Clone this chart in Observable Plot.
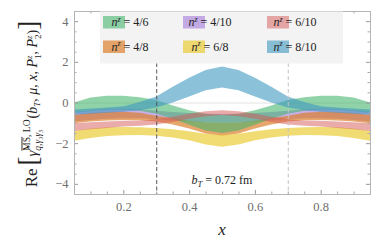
<!DOCTYPE html>
<html><head><meta charset="utf-8">
<script src="https://cdn.jsdelivr.net/npm/d3@7"></script>
<script src="https://cdn.jsdelivr.net/npm/@observablehq/plot@0.6"></script>
<style>
body{margin:0;background:#fff;}
#chart{width:382px;height:243px;}
</style></head><body><div id="chart"></div>
<script>
// x grid
const xs = [0.05,0.10,0.15,0.20,0.25,0.30,0.35,0.40,0.45,0.50,0.55,0.60,0.65,0.70,0.75,0.80,0.85,0.90,0.95];
// n^z = 4/6 (green)
const n46Hi = [0.00,0.25,0.33,0.33,0.26,0.12,-0.15,-0.38,-0.55,-0.60,-0.55,-0.38,-0.15,0.12,0.26,0.33,0.33,0.25,0.00];
const n46Lo = [-0.50,-0.42,-0.36,-0.35,-0.40,-0.55,-0.80,-1.10,-1.38,-1.50,-1.38,-1.10,-0.80,-0.55,-0.40,-0.35,-0.36,-0.42,-0.50];
// n^z = 4/8 (orange)
const n48Hi = [-0.62,-0.52,-0.47,-0.45,-0.50,-0.65,-0.78,-0.90,-0.98,-1.00,-0.98,-0.90,-0.78,-0.65,-0.50,-0.45,-0.47,-0.52,-0.62];
const n48Lo = [-1.02,-0.93,-0.88,-0.86,-0.87,-0.93,-1.08,-1.28,-1.52,-1.64,-1.52,-1.28,-1.08,-0.93,-0.87,-0.86,-0.88,-0.93,-1.02];
// n^z = 4/10 (purple)
const n410Hi = [-0.45,-0.38,-0.32,-0.30,-0.33,-0.40,-0.47,-0.52,-0.55,-0.56,-0.55,-0.52,-0.47,-0.40,-0.33,-0.30,-0.32,-0.38,-0.45];
const n410Lo = [-0.94,-0.86,-0.80,-0.78,-0.78,-0.82,-0.88,-0.93,-0.98,-1.00,-0.98,-0.93,-0.88,-0.82,-0.78,-0.78,-0.80,-0.86,-0.94];
// n^z = 6/8 (yellow)
const n68Hi = [-1.40,-1.28,-1.22,-1.21,-1.22,-1.26,-1.32,-1.42,-1.54,-1.60,-1.54,-1.42,-1.32,-1.26,-1.22,-1.21,-1.22,-1.28,-1.40];
const n68Lo = [-1.88,-1.74,-1.65,-1.61,-1.60,-1.63,-1.72,-1.86,-2.06,-2.18,-2.06,-1.86,-1.72,-1.63,-1.60,-1.61,-1.65,-1.74,-1.88];
// n^z = 6/10 (red)
const n610Hi = [-1.02,-0.97,-0.93,-0.90,-0.88,-0.82,-0.70,-0.55,-0.43,-0.38,-0.43,-0.55,-0.70,-0.82,-0.88,-0.90,-0.93,-0.97,-1.02];
const n610Lo = [-1.40,-1.32,-1.25,-1.18,-1.14,-1.08,-0.96,-0.80,-0.68,-0.62,-0.68,-0.80,-0.96,-1.08,-1.14,-1.18,-1.25,-1.32,-1.40];
// n^z = 8/10 (blue)
const n810Hi = [-0.35,-0.30,-0.25,-0.18,0.02,0.30,0.78,1.22,1.60,1.77,1.60,1.22,0.78,0.30,0.02,-0.18,-0.25,-0.30,-0.35];
const n810Lo = [-0.60,-0.55,-0.50,-0.45,-0.38,-0.25,0.00,0.30,0.60,0.74,0.60,0.30,0.00,-0.25,-0.38,-0.45,-0.50,-0.55,-0.60];

// legend order (column-major: 4/6, 4/8 | 4/10, 6/8 | 6/10, 8/10)
const seriesLabels = ["4/6","4/8","4/10","6/8","6/10","8/10"];
const seriesHi = [n46Hi,n48Hi,n410Hi,n68Hi,n610Hi,n810Hi];
const seriesLo = [n46Lo,n48Lo,n410Lo,n68Lo,n610Lo,n810Lo];
const seriesColors = ["#41b36a","#dc7d26","#9a6dd7","#e8c61e","#d65a56","#3f97c2"];
const seriesOpacity = [0.58,0.68,0.55,0.62,0.5,0.6];
// stacking order of the bands (bottom to top)
const drawOrder = ["4/10","4/8","4/6","6/8","6/10","8/10"];

const xTicks = [0.2,0.4,0.6,0.8];
const xMinor = [0.05,0.1,0.15,0.25,0.3,0.35,0.45,0.5,0.55,0.65,0.7,0.75,0.85,0.9,0.95];
const yTicks = [-4,-2,0,2,4];
const yMinor = [-3.5,-3,-2.5,-1.5,-1,-0.5,0.5,1,1.5,2.5,3,3.5];
const dashedX = [0.3];
const dashedXLight = [0.7];
const annotation = {x: 0.5, y: -3.79, text: " = 0.72 fm"};

const W = 382, H = 243, ML = 74, MR = 12, MT = 11, MB = 49;
const FW = W - ML - MR, FH = H - MT - MB;
const serif = "'Liberation Serif', 'DejaVu Serif', serif";

const rows = [];
seriesLabels.forEach((s, i) => xs.forEach((x, j) => rows.push({s, x, lo: seriesLo[i][j], hi: seriesHi[i][j]})));

const bandMarks = drawOrder.map(s => {
  const i = seriesLabels.indexOf(s);
  return Plot.areaY(rows.filter(r => r.s === s), {x: "x", y1: "lo", y2: "hi", fill: seriesColors[i], fillOpacity: seriesOpacity[i], curve: "linear"});
});

const chart = Plot.plot({
  width: W, height: H,
  marginLeft: ML, marginRight: MR, marginTop: MT, marginBottom: MB,
  style: {fontFamily: serif, background: "#fff"},
  x: {domain: [0.05, 0.95]},
  y: {domain: [-4.5, 4.5]},
  marks: [
    Plot.ruleY([0], {stroke: "#e2e2e2", strokeWidth: 1}),
    ...bandMarks,
    Plot.ruleX(dashedX, {stroke: "#555", strokeWidth: 1, strokeDasharray: "4,2.5"}),
    Plot.ruleX(dashedXLight, {stroke: "#c4c4c4", strokeWidth: 1, strokeDasharray: "4,2.5"}),
    // inward frame ticks
    Plot.tickX(xTicks, {x: d => d, stroke: "#999", insetTop: FH - 4}),
    Plot.tickX(xTicks, {x: d => d, stroke: "#999", insetBottom: FH - 4}),
    Plot.tickX(xMinor, {x: d => d, stroke: "#aaa", insetTop: FH - 2.5}),
    Plot.tickX(xMinor, {x: d => d, stroke: "#aaa", insetBottom: FH - 2.5}),
    Plot.tickY(yTicks, {y: d => d, stroke: "#999", insetRight: FW - 4}),
    Plot.tickY(yTicks, {y: d => d, stroke: "#999", insetLeft: FW - 4}),
    Plot.tickY(yMinor, {y: d => d, stroke: "#aaa", insetRight: FW - 2.5}),
    Plot.tickY(yMinor, {y: d => d, stroke: "#aaa", insetLeft: FW - 2.5}),
    Plot.frame({stroke: "#b5b5b5"}),
    Plot.axisX(xTicks, {tickSize: 0, tickPadding: 8, fontSize: 12.5, fill: "#6e6e6e", label: null}),
    Plot.axisY(yTicks, {tickSize: 0, tickPadding: 6, fontSize: 12.5, fill: "#6e6e6e", label: null,
      tickFormat: d => d < 0 ? "\u2212" + (-d) : String(d)})
  ]
});
document.getElementById("chart").appendChild(chart);

const svg = d3.select(chart);
const sx = chart.scale("x"), sy = chart.scale("y");

// Legend box (drawn on top of the plot area, like the original)
const lg = svg.append("g");
lg.append("rect").attr("x", 100).attr("y", MT + 0.5).attr("width", 243).attr("height", 52).attr("fill", "#f3f3f3");
seriesLabels.forEach((s, i) => {
  const col = Math.floor(i / 2), row = i % 2;
  const sxp = [103, 183, 267][col], tx = [130, 210, 295][col];
  const yy = [16, 40.5][row];
  lg.append("rect").attr("x", sxp).attr("y", yy).attr("width", 22).attr("height", 12.5)
    .attr("fill", seriesColors[i]).attr("fill-opacity", seriesOpacity[i]);
  const t = lg.append("text").attr("x", tx).attr("y", yy + 10).attr("font-family", serif)
    .attr("font-size", 12).attr("fill", "#222");
  t.append("tspan").attr("font-style", "italic").text("n");
  t.append("tspan").attr("font-style", "italic").attr("font-size", 8).attr("dy", -4.5).text("z");
  t.append("tspan").attr("dy", 4.5).text(" = " + s);
});

// annotation b_T = 0.72 fm
const at = svg.append("text").attr("x", sx.apply(annotation.x)).attr("y", sy.apply(annotation.y))
  .attr("dy", "0.35em").attr("text-anchor", "middle").attr("font-family", serif)
  .attr("font-size", 12).attr("fill", "#222");
at.append("tspan").attr("font-style", "italic").text("b");
at.append("tspan").attr("font-style", "italic").attr("font-size", 8.5).attr("dy", 3).text("T");
at.append("tspan").attr("dy", -3).text(annotation.text);

// x axis label
svg.append("text").attr("x", sx.apply(0.5)).attr("y", 235).attr("text-anchor", "middle")
  .attr("font-family", serif).attr("font-style", "italic").attr("font-size", 17).attr("fill", "#222").text("x");

// y axis label
const yl = svg.append("g").attr("transform", "translate(37,104) rotate(-90)")
  .append("text").attr("text-anchor", "middle").attr("font-family", serif).attr("font-size", 14).attr("fill", "#222");
function add(str, o = {}) {
  const ts = yl.append("tspan").text(str);
  if (o.size) ts.attr("font-size", o.size);
  if (o.italic) ts.attr("font-style", "italic");
  if (o.dy) ts.attr("dy", o.dy);
  if (o.dx) ts.attr("dx", o.dx);
  if (o.deco) ts.attr("text-decoration", o.deco);
  return ts.node();
}
add("Re", {size: 17});
add("\u2009", {size: 14});
add("[", {size: 27});
add("\u03B3\u0302", {size: 15, italic: true});
const subNode = add("q,\u03B3\u2083\u03B3\u2085", {size: 9.5, italic: true, dy: 4});
const subLen = subNode.getComputedTextLength();
const ms = add("MS", {size: 9.5, dx: -subLen, dy: -11.5, deco: "overline"});
const msLen = ms.getComputedTextLength();
const lo = add(", LO", {size: 9.5});
const supLen = msLen + lo.getComputedTextLength();
add("(", {size: 14, dy: 7.5, dx: Math.max(0, subLen - supLen) + 1});
add("b", {italic: true});
add("T", {size: 9, italic: true, dy: 3});
add(", ", {dy: -3});
add("\u03BC", {italic: true});
add(", ");
add("x", {italic: true});
add(", ");
add("P", {italic: true});
const z1 = add("z", {size: 9, italic: true, dy: -5});
add("1", {size: 9, dx: -z1.getComputedTextLength(), dy: 8.5});
add(", ", {dy: -3.5});
add("P", {italic: true});
const z2 = add("z", {size: 9, italic: true, dy: -5});
add("2", {size: 9, dx: -z2.getComputedTextLength(), dy: 8.5});
add(")", {dy: -3.5});
add("]", {size: 27});
</script></body></html>
